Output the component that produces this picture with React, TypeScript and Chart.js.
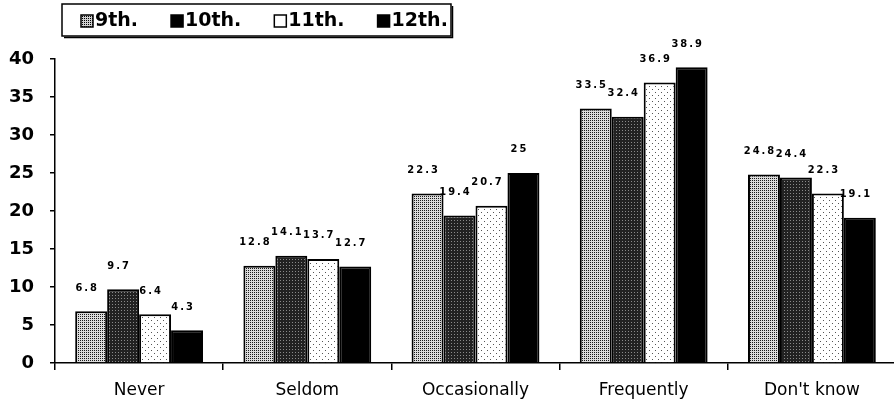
import React, { useEffect, useRef } from 'react';
import { Chart, registerables } from 'chart.js';

Chart.register(...registerables);

const categories = ['Never', 'Seldom', 'Occasionally', 'Frequently', "Don't know"];
const seriesNames = ['9th.', '10th.', '11th.', '12th.'];
const grade9 = [6.8, 12.8, 22.3, 33.5, 24.8];
const grade10 = [9.7, 14.1, 19.4, 32.4, 24.4];
const grade11 = [6.4, 13.7, 20.7, 36.9, 22.3];
const grade12 = [4.3, 12.7, 25, 38.9, 19.1];
const yMin = 0;
const yMax = 40;
const yStep = 5;

function makePattern(
  ctx: CanvasRenderingContext2D,
  size: number,
  bg: string,
  fg: string,
  dots: [number, number][]
): CanvasPattern | string {
  const c = document.createElement('canvas');
  c.width = size;
  c.height = size;
  const g = c.getContext('2d');
  if (!g) return bg;
  g.fillStyle = bg;
  g.fillRect(0, 0, size, size);
  g.fillStyle = fg;
  dots.forEach(([x, y]) => g.fillRect(x, y, 1, 1));
  return ctx.createPattern(c, 'repeat') || bg;
}

const valueLabels = {
  id: 'valueLabels',
  afterDatasetsDraw(chart: any) {
    const { ctx } = chart;
    ctx.save();
    ctx.font = 'bold 11px "DejaVu Sans Condensed", "Liberation Sans Narrow", sans-serif';
    try { (ctx as any).letterSpacing = '2px'; } catch (e) { /* ignore */ }
    ctx.fillStyle = '#000';
    ctx.textAlign = 'center';
    ctx.textBaseline = 'bottom';
    chart.data.datasets.forEach((ds: any, i: number) => {
      const meta = chart.getDatasetMeta(i);
      meta.data.forEach((el: any, j: number) => {
        const v = ds.data[j];
        ctx.fillText(String(v), el.x - 4, el.y - 18);
      });
    });
    ctx.restore();
  },
};

const boxLegend = {
  id: 'boxLegend',
  afterDraw(chart: any) {
    const { ctx } = chart;
    const swatches = chart.options.plugins.boxLegend.swatches;
    ctx.save();
    const left = 62;
    const top = 4;
    const right = 451;
    const bottom = 36;
    ctx.fillStyle = '#fff';
    ctx.fillRect(left, top, right - left, bottom - top);
    ctx.strokeStyle = '#000';
    ctx.lineWidth = 1.5;
    ctx.strokeRect(left, top, right - left, bottom - top);
    ctx.beginPath();
    ctx.moveTo(left + 2, bottom + 1.5);
    ctx.lineTo(right + 1.5, bottom + 1.5);
    ctx.lineTo(right + 1.5, top + 2);
    ctx.stroke();
    ctx.font = 'bold 19px "DejaVu Sans", sans-serif';
    ctx.textBaseline = 'middle';
    ctx.textAlign = 'left';
    let x = 81;
    const cy = 21;
    chart.data.datasets.forEach((ds: any, i: number) => {
      ctx.fillStyle = swatches[i];
      ctx.fillRect(x, cy - 6, 12, 12);
      ctx.strokeStyle = '#000';
      ctx.lineWidth = 1.5;
      ctx.strokeRect(x, cy - 6, 12, 12);
      ctx.fillStyle = '#000';
      ctx.fillText(ds.label, x + 14, cy);
      x += 14 + ctx.measureText(ds.label).width + 33;
    });
    ctx.restore();
  },
};

export default function App() {
  const canvasRef = useRef<HTMLCanvasElement | null>(null);

  useEffect(() => {
    const canvas = canvasRef.current;
    if (!canvas) return;
    const ctx = canvas.getContext('2d');
    if (!ctx) return;

    const fill9 = makePattern(ctx, 2, '#dcdcdc', '#1a1a1a', [[0, 0]]);
    const fill10 = makePattern(ctx, 3, '#222222', '#8a8a8a', [[1, 1]]);
    const fill11 = makePattern(ctx, 6, '#ffffff', '#555', [[1, 2], [4, 5]]);
    const fill12 = '#000000';
    const fills = [fill9, fill10, fill11, fill12];
    const swatches = [makePattern(ctx, 2, '#cfcfcf', '#000', [[0, 0]]), '#000', '#fff', '#000'];
    const series = [grade9, grade10, grade11, grade12];

    const chart = new Chart(ctx, {
      type: 'bar',
      data: {
        labels: categories,
        datasets: series.map((d, i) => ({
          label: seriesNames[i],
          data: d,
          backgroundColor: fills[i] as any,
          borderColor: '#000',
          borderWidth: 2,
          borderSkipped: 'bottom',
          categoryPercentage: 0.76,
          barPercentage: 1.0,
        })),
      },
      options: {
        responsive: false,
        maintainAspectRatio: false,
        animation: false,
        devicePixelRatio: 1,
        layout: { padding: { top: 59, right: 0, left: 0, bottom: 0 } },
        plugins: {
          legend: { display: false },
          tooltip: { enabled: false },
          title: { display: false },
          boxLegend: { swatches },
        } as any,
        scales: {
          x: {
            afterFit: (scale: any) => {
              scale.height = 39;
            },
            grid: {
              display: true,
              offset: true,
              drawOnChartArea: false,
              drawTicks: true,
              tickLength: 7,
              color: '#000',
              lineWidth: 1.5,
            },
            border: { display: true, color: '#000', width: 1.5 },
            ticks: {
              color: '#000',
              padding: 10,
              font: { family: '"DejaVu Sans", sans-serif', size: 17 },
              maxRotation: 0,
              autoSkip: false,
            },
          },
          y: {
            min: yMin,
            max: yMax,
            afterFit: (scale: any) => {
              scale.width = 55;
            },
            grid: {
              display: true,
              drawOnChartArea: false,
              drawTicks: true,
              tickLength: 5,
              color: '#000',
              lineWidth: 1.5,
            },
            border: { display: true, color: '#000', width: 1.5 },
            ticks: {
              stepSize: yStep,
              color: '#000',
              padding: 16,
              font: { family: '"DejaVu Sans", sans-serif', size: 18, weight: 'bold' },
            },
          },
        },
      },
      plugins: [valueLabels, boxLegend],
    });

    return () => {
      chart.destroy();
    };
  }, []);

  return (
    <div style={{ position: 'fixed', left: 0, top: 0, width: 894, height: 402, overflow: 'hidden', background: '#fff' }}>
      <canvas ref={canvasRef} width={896} height={402} style={{ display: 'block' }} />
    </div>
  );
}
